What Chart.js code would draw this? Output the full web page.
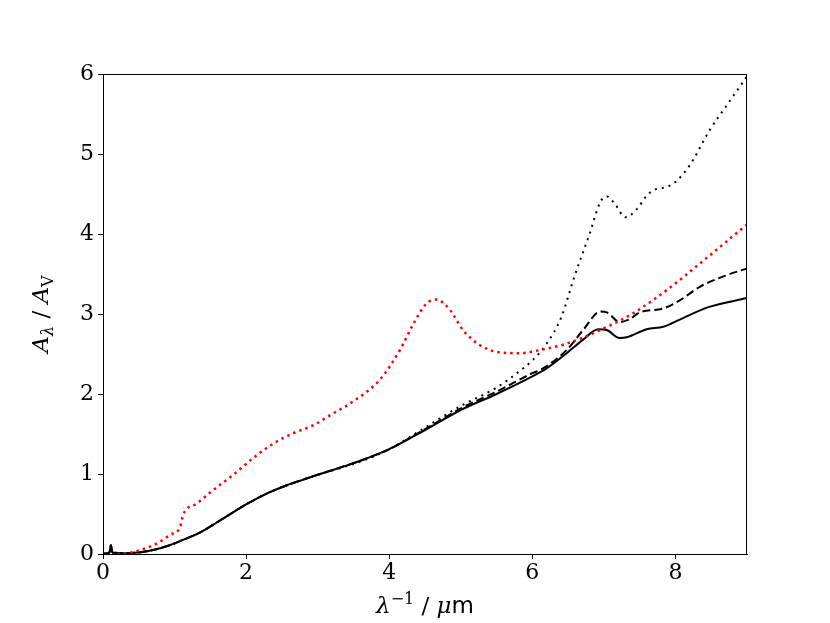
<!DOCTYPE html>
<html>
<head>
<meta charset="utf-8">
<script src="https://cdn.jsdelivr.net/npm/chart.js@4"></script>
<style>
  body { margin: 0; background: #fff; }
  canvas { display: block; }
</style>
</head>
<body>
<canvas id="extChart" width="830" height="623"></canvas>
<script>
// -------------------------------
// DATA
// -------------------------------
const solidX = [0, 0.05, 0.09, 0.11, 0.13, 0.3, 0.5, 0.7, 0.9, 1.1, 1.36, 1.6, 1.8, 2.0, 2.3, 2.57, 2.8, 3.0, 3.45, 3.7, 4.0, 4.5, 5.0, 5.5, 6.0, 6.2, 6.48, 6.71, 6.92, 7.04, 7.22, 7.32, 7.6, 7.83, 8.06, 8.44, 9.0];
const solidY = [0, 0.01, 0.02, 0.11, 0.02, 0.01, 0.02, 0.05, 0.1, 0.17, 0.27, 0.4, 0.51, 0.62, 0.76, 0.86, 0.93, 0.99, 1.12, 1.2, 1.31, 1.55, 1.8, 2.0, 2.22, 2.32, 2.51, 2.68, 2.81, 2.8, 2.7, 2.71, 2.81, 2.84, 2.93, 3.08, 3.2];

const dashX = [0, 0.05, 0.09, 0.11, 0.13, 0.3, 0.5, 0.7, 0.9, 1.1, 1.36, 1.6, 1.8, 2.0, 2.3, 2.57, 2.8, 3.0, 3.45, 3.7, 4.0, 4.5, 5.0, 5.5, 6.0, 6.15, 6.48, 6.71, 6.95, 7.04, 7.22, 7.35, 7.5, 7.83, 8.06, 8.34, 8.7, 9.0];
const dashY = [0, 0.01, 0.02, 0.11, 0.02, 0.01, 0.02, 0.05, 0.1, 0.17, 0.27, 0.4, 0.51, 0.62, 0.76, 0.86, 0.93, 0.99, 1.12, 1.2, 1.31, 1.56, 1.82, 2.03, 2.26, 2.32, 2.55, 2.8, 3.03, 3.02, 2.9, 2.93, 3.02, 3.07, 3.17, 3.34, 3.48, 3.57];

const dotX = [0, 0.05, 0.09, 0.11, 0.13, 0.3, 0.5, 0.7, 0.9, 1.1, 1.36, 1.6, 1.8, 2.0, 2.3, 2.57, 2.8, 3.0, 3.45, 3.7, 4.0, 4.5, 5.0, 5.5, 5.8, 6.0, 6.2, 6.4, 6.6, 6.8, 6.95, 7.04, 7.15, 7.3, 7.45, 7.6, 7.7, 7.88, 8.0, 8.2, 8.48, 8.75, 9.0];
const dotY = [0, 0.01, 0.02, 0.11, 0.02, 0.01, 0.02, 0.05, 0.1, 0.17, 0.27, 0.4, 0.51, 0.62, 0.76, 0.86, 0.93, 0.99, 1.11, 1.19, 1.31, 1.58, 1.85, 2.08, 2.27, 2.42, 2.63, 2.95, 3.5, 4.0, 4.4, 4.47, 4.38, 4.21, 4.3, 4.48, 4.55, 4.59, 4.65, 4.86, 5.3, 5.65, 5.97];

const redX = [0.2, 0.35, 0.52, 0.75, 0.94, 1.08, 1.12, 1.31, 1.54, 1.82, 2.1, 2.38, 2.66, 2.94, 3.22, 3.45, 3.87, 4.15, 4.34, 4.52, 4.66, 4.85, 5.03, 5.27, 5.55, 5.83, 6.11, 6.48, 6.95, 7.41, 7.88, 8.34, 9.0];
const redY = [0, 0.01, 0.05, 0.13, 0.24, 0.34, 0.49, 0.63, 0.8, 0.99, 1.2, 1.38, 1.51, 1.61, 1.76, 1.88, 2.18, 2.55, 2.88, 3.13, 3.18, 3.05, 2.8, 2.61, 2.52, 2.51, 2.55, 2.63, 2.8, 3.01, 3.3, 3.63, 4.12];

const xTicks = [0, 2, 4, 6, 8];
const yTicks = [0, 1, 2, 3, 4, 5, 6];

const pts = (xs, ys) => xs.map((x, i) => ({ x: x, y: ys[i] }));

// -------------------------------
// FRAME + AXIS TITLES
// -------------------------------
const SERIF = "'DejaVu Serif', serif";

const framePlugin = {
    id: "frame",
    afterDraw(chart) {
        const c = chart.ctx;
        const a = chart.chartArea;
        c.save();
        c.strokeStyle = "#000";
        c.lineWidth = 1;
        c.strokeRect(a.left + 0.5, a.top + 0.5, a.right - a.left - 1, a.bottom - a.top);

        // x title: λ⁻¹ / μm
        c.fillStyle = "#000";
        c.textBaseline = "alphabetic";
        const cx = (a.left + a.right) / 2;
        const parts = [
            { t: "λ", f: "italic 23px " + SERIF, dy: 0 },
            { t: "−1", f: "16px " + SERIF, dy: -9 },
            { t: " / ", f: "23px " + SERIF, dy: 0 },
            { t: "μ", f: "italic 23px " + SERIF, dy: 0 },
            { t: "m", f: "23px 'DejaVu Sans', sans-serif", dy: 0 }
        ];
        let w = 0;
        parts.forEach(p => { c.font = p.f; w += c.measureText(p.t).width; });
        let x = cx - w / 2;
        parts.forEach(p => {
            c.font = p.f;
            c.fillText(p.t, x, 613 + p.dy);
            x += c.measureText(p.t).width;
        });

        // y title: A_λ / A_V
        const yparts = [
            { t: "A", f: "italic 23px " + SERIF, dy: 0 },
            { t: "λ", f: "italic 16px " + SERIF, dy: 5 },
            { t: " / ", f: "23px " + SERIF, dy: 0 },
            { t: "A", f: "italic 23px " + SERIF, dy: 0 },
            { t: "V", f: "16px " + SERIF, dy: 5 }
        ];
        w = 0;
        yparts.forEach(p => { c.font = p.f; w += c.measureText(p.t).width; });
        c.translate(48, (a.top + a.bottom) / 2);
        c.rotate(-Math.PI / 2);
        x = -w / 2;
        yparts.forEach(p => {
            c.font = p.f;
            c.fillText(p.t, x, p.dy);
            x += c.measureText(p.t).width;
        });
        c.restore();
    }
};

// -------------------------------
// CHART
// -------------------------------
const line = (data, color, dash, width) => ({
    data: data,
    showLine: true,
    borderColor: color,
    borderWidth: width,
    borderDash: dash,
    pointRadius: 0,
    fill: false,
    cubicInterpolationMode: "monotone"
});

new Chart(document.getElementById("extChart").getContext("2d"), {
    type: "scatter",
    data: {
        datasets: [
            line(pts(redX, redY), "#ff0000", [2.5, 4], 2.5),
            line(pts(dotX, dotY), "#000", [2, 5], 2),
            line(pts(dashX, dashY), "#000", [8, 4], 2),
            line(pts(solidX, solidY), "#000", [], 2)
        ]
    },
    options: {
        responsive: false,
        animation: false,
        devicePixelRatio: 1,
        layout: { padding: { left: 0, top: 74, right: 83, bottom: 0 } },
        plugins: { legend: { display: false }, tooltip: { enabled: false } },
        scales: {
            x: {
                type: "linear",
                min: 0, max: 9,
                afterFit: s => { s.height = 69; },
                afterBuildTicks: s => { s.ticks = xTicks.map(v => ({ value: v })); },
                grid: { drawOnChartArea: false, tickLength: 5, color: "#000" },
                border: { color: "#000" },
                ticks: { color: "#000", font: { family: SERIF, size: 22 }, padding: 1, maxRotation: 0 }
            },
            y: {
                min: 0, max: 6,
                afterFit: s => { s.width = 103; },
                afterBuildTicks: s => { s.ticks = yTicks.map(v => ({ value: v })); },
                grid: { drawOnChartArea: false, tickLength: 5, color: "#000" },
                border: { color: "#000" },
                ticks: { color: "#000", font: { family: SERIF, size: 22 }, padding: 4 }
            }
        }
    },
    plugins: [framePlugin]
});
</script>
</body>
</html>
